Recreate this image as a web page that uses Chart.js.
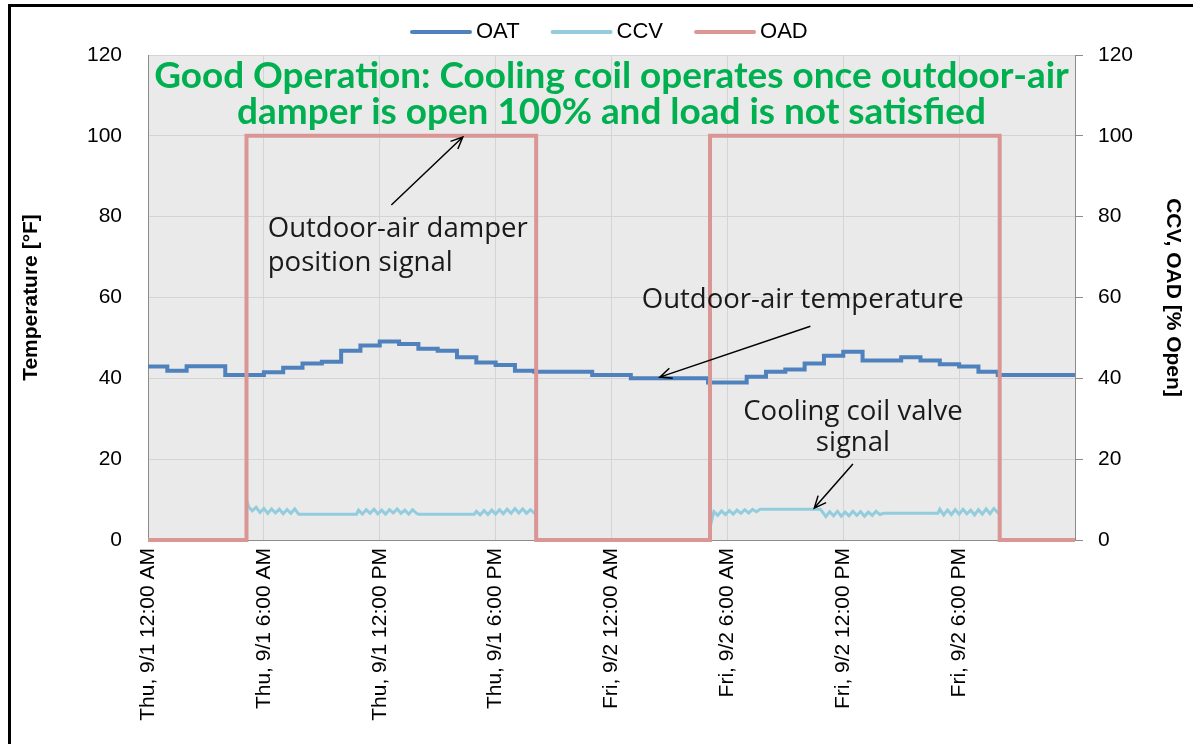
<!DOCTYPE html>
<html>
<head>
<meta charset="utf-8">
<script src="https://cdn.jsdelivr.net/npm/chart.js@4.4.0/dist/chart.umd.min.js"></script>
<style>
html, body { margin: 0; padding: 0; background: #fff; }
#wrap { position: relative; width: 1193px; height: 744px; overflow: hidden; }
#frame { position: absolute; left: 8px; top: 4px; right: -10px; bottom: -10px; border-top: 3px solid #000; border-left: 3px solid #000; pointer-events: none; }
canvas { position: absolute; left: 0; top: 0; }
</style>
</head>
<body>
<div id="wrap"><canvas id="chart" width="1193" height="744"></canvas><div id="frame"></div></div>
<script>
// x axis: hours from Thu 9/1 12:00 AM
const xTickHours = [0, 6, 12, 18, 24, 30, 36, 42, 48];
const xLabels = ['Thu, 9/1 12:00 AM', 'Thu, 9/1 6:00 AM', 'Thu, 9/1 12:00 PM', 'Thu, 9/1 6:00 PM',
                 'Fri, 9/2 12:00 AM', 'Fri, 9/2 6:00 AM', 'Fri, 9/2 12:00 PM', 'Fri, 9/2 6:00 PM', ''];
const yTicks = [0, 20, 40, 60, 80, 100, 120];

// outdoor-air temperature, one reading per hour (degF)
const oatValues = [42.9, 41.9, 43.0, 43.0, 40.8, 40.8, 41.5, 42.6, 43.7, 44.1, 46.8, 48.1,
                   49.1, 48.5, 47.3, 46.8, 45.2, 43.9, 43.3, 41.9, 41.6, 41.6, 41.6, 40.8,
                   40.8, 40.0, 40.0, 40.0, 40.0, 39.0, 39.0, 40.4, 41.6, 42.2, 43.7, 45.6,
                   46.6, 44.4, 44.4, 45.2, 44.4, 43.5, 42.9, 41.6, 40.8, 40.8, 40.8, 40.8, 40.8];
const oatHours = oatValues.map((v, i) => i);

// outdoor-air damper (% open), step changes
const oadHours = [0, 5.1, 20.1, 29.1, 44.1, 48];
const oadValues = [0, 100, 0, 100, 0, 0];

// cooling coil valve (% open)
const ccvHours = [0, 5.1, 5.1, 5.2, 5.4, 5.6, 5.8, 6.0, 6.2, 6.4, 6.6, 6.8, 7.0, 7.2, 7.4, 7.6, 7.8, 8.0,
  10.8, 10.9, 11.1, 11.3, 11.5, 11.7, 11.9, 12.1, 12.3, 12.5, 12.7, 12.9, 13.1, 13.3, 13.5, 13.7, 13.9, 14.0,
  16.9, 17.0, 17.2, 17.4, 17.6, 17.8, 18.0, 18.2, 18.4, 18.6, 18.8, 19.0, 19.2, 19.4, 19.6, 19.8, 20.0, 20.1, 20.1,
  29.1, 29.15, 29.2, 29.3, 29.5, 29.7, 29.9, 30.1, 30.3, 30.5, 30.7, 30.9, 31.1, 31.3, 31.5, 31.7, 31.9,
  34.8, 34.9, 35.1, 35.3, 35.5, 35.7, 35.9, 36.1, 36.3, 36.5, 36.7, 36.9, 37.1, 37.3, 37.5, 37.7, 37.9, 38.1,
  40.9, 41.0, 41.2, 41.4, 41.6, 41.8, 42.0, 42.2, 42.4, 42.6, 42.8, 43.0, 43.2, 43.4, 43.6, 43.8, 44.0, 44.1, 44.1, 48];
const ccvValues = [0, 0, 10.0, 8.3, 7.2, 8.1, 6.8, 7.8, 6.6, 7.7, 6.7, 7.6, 6.5, 7.5, 6.6, 7.7, 6.4, 6.4,
  6.4, 7.4, 6.4, 7.5, 6.6, 7.6, 6.5, 7.4, 6.4, 7.5, 6.7, 7.7, 6.6, 7.4, 6.4, 7.5, 6.6, 6.4,
  6.4, 7.1, 6.2, 7.3, 6.3, 7.4, 6.4, 7.5, 6.5, 7.6, 6.6, 7.8, 6.7, 7.7, 6.6, 7.5, 6.7, 7.2, 0,
  0, 7.0, 5.0, 7.0, 6.1, 7.2, 6.3, 7.3, 6.4, 7.4, 6.6, 7.5, 6.7, 7.6, 7.0, 7.6, 7.6,
  7.6, 7.1, 5.8, 7.0, 6.0, 7.1, 5.9, 6.9, 6.0, 7.1, 6.1, 7.0, 5.9, 6.9, 6.1, 7.1, 6.3, 6.6,
  6.6, 7.6, 6.2, 7.4, 6.3, 7.5, 6.4, 7.6, 6.5, 7.4, 6.2, 7.5, 6.4, 7.7, 6.5, 7.8, 6.8, 7.2, 0, 0];

const pts = (xs, ys) => xs.map((x, i) => ({ x, y: ys[i] }));
const FONT = "'Liberation Sans', Arial, sans-serif";
const TITLE_FONT = "Lato, 'Open Sans', sans-serif";
const NOTE_FONT = "'Open Sans', Lato, sans-serif";

// notes drawn on the plot: [text, hour, value, align]
const noteLines = [
  ['Outdoor-air damper', 6.2, 77, 'left'],
  ['position signal', 6.2, 68.5, 'left'],
  ['Outdoor-air temperature', 33.9, 59.4, 'center'],
  ['Cooling coil valve', 36.5, 31.7, 'center'],
  ['signal', 36.5, 24, 'center']
];
const arrows = [[12.6, 82.9, 16.3, 99.7], [34.3, 52.9, 26.5, 40.3], [36.5, 18.8, 34.5, 7.9]];
const headline = ['Good Operation: Cooling coil operates once outdoor-air', 'damper is open 100% and load is not satisfied'];

const plotBg = {
  id: 'plotBg',
  beforeDraw(chart) {
    const { ctx, chartArea: a } = chart;
    ctx.save();
    ctx.fillStyle = '#EAEAEA';
    ctx.fillRect(a.left, a.top, a.right - a.left, a.bottom - a.top);
    ctx.restore();
  }
};

function arrow(ctx, x1, y1, x2, y2) {
  const a = Math.atan2(y2 - y1, x2 - x1), L = 13, w = 0.42;
  ctx.beginPath();
  ctx.moveTo(x1, y1); ctx.lineTo(x2, y2);
  ctx.moveTo(x2 - L * Math.cos(a - w), y2 - L * Math.sin(a - w));
  ctx.lineTo(x2, y2);
  ctx.lineTo(x2 - L * Math.cos(a + w), y2 - L * Math.sin(a + w));
  ctx.stroke();
}

function fitSize(ctx, text, width, weight, family) {
  ctx.font = `${weight} 20px ${family}`;
  return 20 * width / ctx.measureText(text).width;
}

const notes = {
  id: 'notes',
  afterDraw(chart) {
    const { ctx } = chart;
    const sx = chart.scales.x, sy = chart.scales.y2;
    ctx.save();
    ctx.textBaseline = 'middle';

    // headline
    const hs = fitSize(ctx, headline[0], 915, 'bold', TITLE_FONT);
    ctx.font = `bold ${hs}px ${TITLE_FONT}`;
    ctx.fillStyle = '#00B050';
    ctx.textAlign = 'center';
    ctx.fillText(headline[0], sx.getPixelForValue(24), sy.getPixelForValue(114.8));
    ctx.fillText(headline[1], sx.getPixelForValue(24), sy.getPixelForValue(105.9));

    // callouts
    const ns = fitSize(ctx, 'Outdoor-air temperature', 322, 'normal', NOTE_FONT);
    ctx.font = `${ns}px ${NOTE_FONT}`;
    ctx.fillStyle = '#1a1a1a';
    noteLines.forEach(([t, h, v, al]) => {
      ctx.textAlign = al;
      ctx.fillText(t, sx.getPixelForValue(h), sy.getPixelForValue(v));
    });

    ctx.strokeStyle = '#000';
    ctx.lineWidth = 1.5;
    arrows.forEach(([h1, v1, h2, v2]) => arrow(ctx, sx.getPixelForValue(h1), sy.getPixelForValue(v1), sx.getPixelForValue(h2), sy.getPixelForValue(v2)));

    // legend
    ctx.font = `22px ${FONT}`;
    ctx.textAlign = 'left';
    let x = 412;
    chart.data.datasets.forEach(ds => {
      ctx.strokeStyle = ds.borderColor;
      ctx.lineWidth = 4;
      ctx.lineCap = 'round';
      ctx.beginPath(); ctx.moveTo(x, 32); ctx.lineTo(x + 58, 32); ctx.stroke();
      ctx.fillStyle = '#000';
      ctx.fillText(ds.label, x + 64, 32);
      x += 64 + ctx.measureText(ds.label).width + 33;
    });
    ctx.restore();
  }
};

const tickFont = { family: FONT, size: 21 };

new Chart(document.getElementById('chart'), {
  type: 'line',
  data: {
    datasets: [
      { label: 'OAT', data: pts(oatHours, oatValues), yAxisID: 'y', stepped: true, borderColor: '#4F81BD', borderWidth: 4, order: 3 },
      { label: 'CCV', data: pts(ccvHours, ccvValues), yAxisID: 'y2', borderColor: '#93CDDD', borderWidth: 3, order: 2 },
      { label: 'OAD', data: pts(oadHours, oadValues), yAxisID: 'y2', stepped: true, borderColor: '#D99694', borderWidth: 4, order: 1 }
    ]
  },
  options: {
    responsive: false,
    devicePixelRatio: 1,
    animation: false,
    layout: { padding: { top: 55, left: 0, right: 0, bottom: 0 } },
    elements: { point: { radius: 0 }, line: { tension: 0 } },
    datasets: { line: { clip: false, fill: false } },
    plugins: { legend: { display: false }, tooltip: { enabled: false } },
    scales: {
      x: {
        type: 'linear', min: 0, max: 48,
        afterBuildTicks: s => { s.ticks = xTickHours.map(v => ({ value: v })); },
        afterFit: s => { s.height = 204; },
        ticks: { autoSkip: false, minRotation: 90, maxRotation: 90, padding: 8, color: '#000', font: tickFont,
                 callback: v => xLabels[xTickHours.indexOf(v)] },
        grid: { color: '#D4D4D4', drawTicks: false },
        border: { color: '#8C8C8C' }
      },
      y: {
        position: 'left', min: 0, max: 120,
        afterBuildTicks: s => { s.ticks = yTicks.map(v => ({ value: v })); },
        afterFit: s => { s.width = 148; },
        ticks: { padding: 26, color: '#000', font: tickFont },
        grid: { color: '#D4D4D4', drawTicks: false },
        border: { color: '#8C8C8C' },
        title: { display: true, text: 'Temperature [°F]', color: '#000', font: { family: FONT, size: 21, weight: 'bold' }, padding: { top: 19, bottom: 0 } }
      },
      y2: {
        position: 'right', min: 0, max: 120,
        afterBuildTicks: s => { s.ticks = yTicks.map(v => ({ value: v })); },
        afterFit: s => { s.width = 118; },
        ticks: { padding: 15, color: '#000', font: tickFont },
        grid: { drawOnChartArea: false, drawTicks: true, tickLength: 8, color: '#8C8C8C' },
        border: { color: '#8C8C8C' },
        title: { display: true, text: 'CCV, OAD [% Open]', color: '#000', font: { family: FONT, size: 21, weight: 'bold' }, padding: { top: 8, bottom: 0 } }
      }
    }
  },
  plugins: [plotBg, notes]
});
</script>
</body>
</html>
